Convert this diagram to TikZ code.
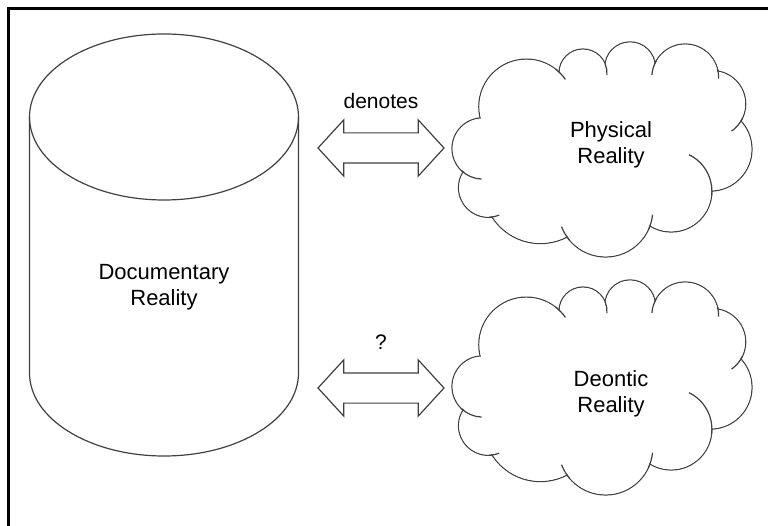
\documentclass[tikz,border=0pt]{standalone}
\usepackage{fontspec}
\setmainfont{Liberation Sans}
\usetikzlibrary{shapes.arrows}
\usetikzlibrary{positioning}

% puffs of a cloud: centre offset and radius
\newcommand{\realmpuffs}{-119.4/-1.5/30.6, -113.9/37.7/29.6, -61.6/36.3/57.3,
    3.6/59.8/47.2, 69.2/41.3/40.7, 108.2/-0.7/41.8, 110.4/-46.1/33.3,
    83.2/-72.6/33.4, 28.1/-82.8/25.3, -19/-77/24, -75.6/-43.3/47.6}
% short inner arcs: centre, radius, from, to
\newcommand{\realmticks}{-119.4/-1.5/30.6/225/268, -113.9/37.7/29.6/272/292,
    3.6/59.8/47.2/220/201, 3.6/59.8/47.2/335/354, 69.2/41.3/40.7/-5/64,
    110.4/-46.1/33.3/-25/-55, 83.2/-72.6/33.4/15/-2, 83.2/-72.6/33.4/150/176,
    -19/-77/24/22/-5, -75.6/-43.3/47.6/52/35}
\newcommand{\realmcloud}[1]{%
  \begin{scope}[shift={#1}]
    \foreach \dx/\dy/\r in \realmpuffs
      \draw[shape line] (\dx,\dy) circle[radius=\r pt];
    \foreach \dx/\dy/\r in \realmpuffs
      \fill[white] (\dx,\dy) circle[radius={\r pt-0.7pt}];
    \fill[white] (-119.4,-1.5) -- (-113.9,37.7) -- (-61.6,36.3) -- (3.6,59.8)
      -- (69.2,41.3) -- (108.2,-0.7) -- (110.4,-46.1) -- (83.2,-72.6)
      -- (28.1,-82.8) -- (-19,-77) -- (-75.6,-43.3) -- cycle;
    \foreach \dx/\dy/\r/\a/\b in \realmticks
      \draw[shape line] (\dx,\dy) ++(\a:\r pt) arc[start angle=\a, end angle=\b, radius=\r pt];
  \end{scope}}

\begin{document}
\begin{tikzpicture}[x=1pt, y=-1pt,
    shape line/.style={draw=black!75, line width=1.2pt},
    shape text/.style={align=center, font=\fontsize{22}{26}\selectfont},
    link arrow/.style={shape line, double arrow, double arrow head extend=13pt,
        double arrow tip angle=95, minimum height=126pt, inner xsep=0pt, inner ysep=14.5pt},
    every node/.style={color=black, font=\fontsize{21}{26}\selectfont},
    ]

\useasboundingbox (0,0) rectangle (768,526);

%% frame
\draw[line width=3pt] (8.5,526) -- (8.5,8.5) -- (768,8.5);

%% documentary cylinder
\draw[shape line] (164,117) ellipse[x radius=134.5pt, y radius=83pt];
\draw[shape line] (29.5,117) -- (29.5,373)
    arc[start angle=180, end angle=360, x radius=134.5pt, y radius=83pt] -- (298.5,117);
\node[shape text] (docs) at (164,287) {Documentary\\Reality};

%% clouds
\realmcloud{(602,150)}
\realmcloud{(602,388)}
\node[shape text] (phys) at (611,145) {Physical\\Reality};
\node[shape text] (deon) at (611,393.5) {Deontic\\Reality};

%% draw arrows
\node[link arrow] (denarr) at (381,148) {};
\node[link arrow] (deonarr) at (381,388) {};

%% label arrows
\node[above=21pt, inner sep=2pt] (denlbl) at (denarr.north) {denotes};
\node[above=21pt, inner sep=2pt] (quslbl) at (deonarr.north) {?};

\end{tikzpicture}
\end{document}
